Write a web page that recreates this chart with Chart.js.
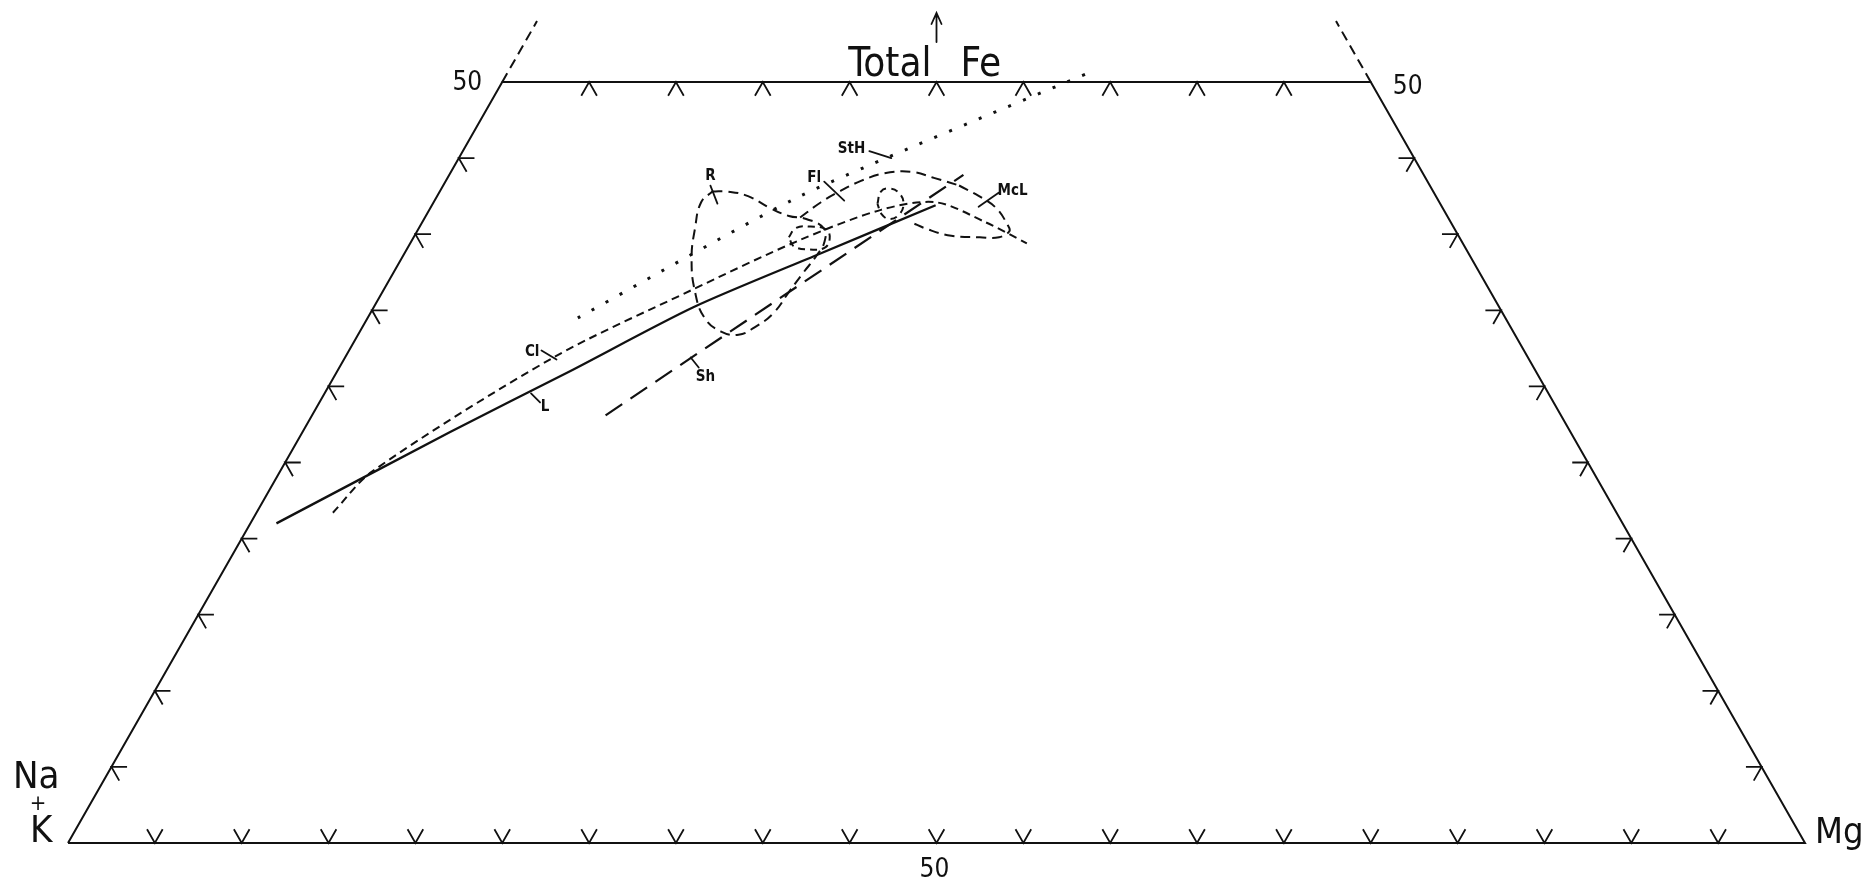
<!DOCTYPE html>
<html>
<head>
<meta charset="utf-8">
<title>Na+K – Total Fe – Mg</title>
<script src="https://cdn.jsdelivr.net/npm/chart.js@4.4.1/dist/chart.umd.min.js"></script>
<style>
  html, body { margin: 0; padding: 0; background: #fff; }
  canvas { display: block; }
</style>
</head>
<body>
<canvas id="afm" width="1869" height="884"></canvas>
<script>
// All points are [Total Fe %, Mg %]; Na+K makes up the rest to 100.
const trendL   = [[21.0, 1.5], [27.0, 8.5], [31.0, 13.4], [35.2, 18.4], [38.7, 23.9], [41.9, 29.0]];
const trendCl  = [[21.7, 4.4], [24.4, 5.3], [31.9, 12.0], [36.3, 17.7], [39.6, 22.3], [41.6, 26.0], [42.1, 28.9], [40.8, 32.4], [39.4, 35.5]];
const trendSh  = [[28.1, 16.9], [43.9, 29.6]];
const trendStH = [[34.5, 12.1], [42.5, 20.9], [50.7, 33.6]];

const fieldR   = [[42.8, 15.7], [42.8, 16.6], [42.5, 17.9], [41.7, 19.6], [41.2, 20.9], [41.0, 22.0], [40.4, 23.3],
                  [39.5, 23.8], [38.6, 23.8], [37.5, 23.6], [36.2, 23.4], [34.8, 23.2], [33.9, 22.6], [33.4, 21.9],
                  [33.6, 20.8], [34.5, 19.4], [36.2, 18.0], [38.4, 16.7], [40.4, 15.9], [42.1, 15.4], [42.8, 15.7]];
const fieldFl  = [[41.1, 21.6], [42.1, 22.3], [42.8, 23.0], [43.5, 23.9], [44.0, 25.0], [44.1, 26.5], [43.7, 28.0], [43.2, 29.7]];
const fieldMcL = [[43.2, 29.7], [42.5, 31.2], [41.7, 32.6], [40.6, 33.8], [40.2, 34.1], [39.8, 33.7], [39.8, 32.6],
                  [39.9, 30.9], [40.3, 29.4], [40.8, 28.1]];
const loopA    = [[39.8, 21.6], [40.4, 21.7], [40.5, 22.5], [40.3, 23.5], [39.7, 24.0], [39.1, 24.0], [39.0, 23.2], [39.2, 22.2], [39.8, 21.6]];
const loopB    = [[42.0, 25.6], [42.8, 25.4], [43.0, 25.8], [42.7, 26.5], [42.0, 27.1], [41.3, 27.2], [41.0, 26.8], [41.3, 26.2], [42.0, 25.6]];

// tick positions along the edges (percent)
const baseTicks = [5, 10, 15, 20, 25, 30, 35, 40, 45, 50, 55, 60, 65, 70, 75, 80, 85, 90, 95];
const sideTicks = [5, 10, 15, 20, 25, 30, 35, 40, 45];
const topTicks  = [5, 10, 15, 20, 25, 30, 35, 40, 45];
const TICK = 0.9;
const FE_CUT = 50;

const ink = '#111';

// ternary -> cartesian (x along the base, y = Fe height)
const tp = (fe, mg) => ({ x: mg + fe / 2, y: fe });
const pts = arr => arr.map(([fe, mg]) => tp(fe, mg));
const GAP = { x: null, y: null };

const framePts = pts([[0, 0], [0, 100], [FE_CUT, 100 - FE_CUT], [FE_CUT, 0], [0, 0]]);
const extPts = [tp(FE_CUT, 0), tp(54, 0), GAP, tp(FE_CUT, 100 - FE_CUT), tp(54, 100 - 54)];

const tickPts = [];
baseTicks.forEach(m => {
  tickPts.push(tp(TICK, m), tp(0, m), tp(TICK, m - TICK), GAP);
});
topTicks.forEach(m => {
  tickPts.push(tp(FE_CUT - TICK, m), tp(FE_CUT, m), tp(FE_CUT - TICK, m + TICK), GAP);
});
sideTicks.forEach(f => {
  tickPts.push(tp(f, TICK), tp(f, 0), tp(f - TICK, TICK), GAP);
  tickPts.push(tp(f, 100 - f - TICK), tp(f, 100 - f), tp(f - TICK, 100 - f), GAP);
});

// labels hung on the curves: anchor, leader tick (px), text offset (px)
const curveLabels = [
  { text: 'R',   at: [42.8, 15.7], tick: [-2, -6, 5, 12],   dx: -2,  dy: -15, align: 'center' },
  { text: 'Fl',  at: [42.8, 23.0], tick: [-15, -10, 5, 9],  dx: -25, dy: -13, align: 'center' },
  { text: 'StH', at: [45.0, 24.9], tick: [0, 0, -22, -7],   dx: -26, dy: -9,  align: 'right' },
  { text: 'McL', at: [42.2, 31.9], tick: [-10, 6, 10, -8],  dx: 9,   dy: -10, align: 'left' },
  { text: 'Cl',  at: [31.9, 12.0], tick: [-12, -7, 3, 2],   dx: -14, dy: -5,  align: 'right' },
  { text: 'L',   at: [29.6, 11.8], tick: [1, 1, 10, 10],    dx: 15,  dy: 15,  align: 'center' },
  { text: 'Sh',  at: [31.9, 19.9], tick: [0, 0, 8, 10],     dx: 5,   dy: 20,  align: 'left' }
];

const annotate = {
  id: 'annotate',
  afterDatasetsDraw(chart) {
    const { ctx } = chart;
    const sx = chart.scales.x, sy = chart.scales.y;
    const at = (fe, mg) => [sx.getPixelForValue(mg + fe / 2), sy.getPixelForValue(fe)];
    const cond = "'DejaVu Sans Condensed', 'DejaVu Sans', sans-serif";

    ctx.save();
    ctx.fillStyle = ink;
    ctx.strokeStyle = ink;
    ctx.lineCap = 'round';
    ctx.lineWidth = 1.8;

    curveLabels.forEach(lb => {
      const [ax, ay] = at(lb.at[0], lb.at[1]);
      ctx.beginPath();
      ctx.moveTo(ax + lb.tick[0], ay + lb.tick[1]);
      ctx.lineTo(ax + lb.tick[2], ay + lb.tick[3]);
      ctx.stroke();
      ctx.font = 'bold 15px ' + cond;
      ctx.textAlign = lb.align;
      ctx.textBaseline = 'middle';
      ctx.fillText(lb.text, ax + lb.dx, ay + lb.dy);
    });

    // corner and edge labels
    const [blx, bly] = at(0, 0);
    const [brx, bry] = at(0, 100);
    const [tlx, tly] = at(FE_CUT, 0);
    const [trx, try_] = at(FE_CUT, 100 - FE_CUT);
    const [midx, midy] = at(0, 50);
    const [topx, topy] = at(FE_CUT, 25);

    ctx.textBaseline = 'alphabetic';
    ctx.font = '38px ' + cond;
    ctx.textAlign = 'left';
    ctx.fillText('Na', blx - 55, bly - 55);
    ctx.fillText('K', blx - 38, bly - 1);
    ctx.font = '22px ' + cond;
    ctx.textAlign = 'center';
    ctx.fillText('+', blx - 30, bly - 33);
    ctx.font = '36px ' + cond;
    ctx.textAlign = 'left';
    ctx.fillText('Mg', brx + 10, bry);

    ctx.font = '26px ' + cond;
    ctx.textBaseline = 'middle';
    ctx.textAlign = 'right';
    ctx.fillText('50', tlx - 20, tly + 1);
    ctx.textAlign = 'left';
    ctx.fillText('50', trx + 22, try_ + 5);
    ctx.textAlign = 'center';
    ctx.fillText('50', midx - 2, midy + 27);

    ctx.textBaseline = 'alphabetic';
    ctx.font = '40px ' + cond;
    ctx.textAlign = 'right';
    ctx.fillText('Total', topx - 5, topy - 6);
    ctx.textAlign = 'left';
    ctx.fillText('Fe', topx + 24, topy - 6);

    // arrow towards the Fe apex
    ctx.lineWidth = 1.8;
    ctx.beginPath();
    ctx.moveTo(topx, topy - 40);
    ctx.lineTo(topx, topy - 69);
    ctx.moveTo(topx - 5, topy - 58);
    ctx.lineTo(topx, topy - 69);
    ctx.lineTo(topx + 5, topy - 58);
    ctx.stroke();
    ctx.restore();
  }
};

const line = (data, extra) => Object.assign({
  data, showLine: true, pointRadius: 0, borderColor: ink, borderWidth: 2,
  fill: false, clip: false, tension: 0, spanGaps: false
}, extra);

new Chart(document.getElementById('afm'), {
  type: 'scatter',
  data: {
    datasets: [
      line(framePts, { label: 'frame' }),
      line(extPts, { label: 'apex', borderDash: [10, 6] }),
      line(tickPts, { label: 'ticks', borderWidth: 1.8 }),
      line(pts(trendL), { label: 'L', borderWidth: 2.3, tension: 0.25 }),
      line(pts(trendCl), { label: 'Cl', borderDash: [8, 5], tension: 0.3 }),
      line(pts(trendSh), { label: 'Sh', borderWidth: 2.2, borderDash: [20, 10] }),
      line(pts(trendStH), { label: 'StH', borderWidth: 3, borderDash: [3, 13], tension: 0.2 }),
      line(pts(fieldR), { label: 'R', borderDash: [10, 6], tension: 0.45 }),
      line(pts(fieldFl), { label: 'Fl', borderDash: [10, 6], tension: 0.4 }),
      line(pts(fieldMcL), { label: 'McL', borderDash: [10, 6], tension: 0.4 }),
      line(pts(loopA), { label: 'a', borderDash: [7, 5], tension: 0.45 }),
      line(pts(loopB), { label: 'b', borderDash: [7, 5], tension: 0.45 })
    ]
  },
  options: {
    responsive: false,
    animation: false,
    devicePixelRatio: 1,
    layout: { padding: { left: 68, right: 64, top: 82, bottom: 41 } },
    plugins: { legend: { display: false }, tooltip: { enabled: false } },
    scales: {
      x: { type: 'linear', min: 0, max: 100, display: false },
      y: { type: 'linear', min: 0, max: FE_CUT, display: false }
    }
  },
  plugins: [annotate]
});
</script>
</body>
</html>
